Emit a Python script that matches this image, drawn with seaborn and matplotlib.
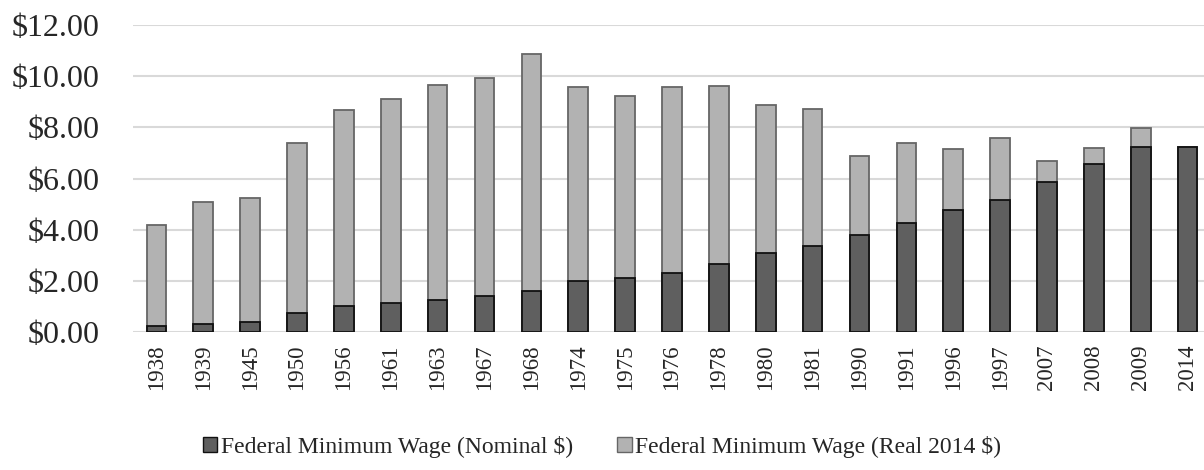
import matplotlib
matplotlib.use("Agg")
import matplotlib.pyplot as plt
import matplotlib.patches as mpatches
import seaborn as sns
import pandas as pd

years = ["1938", "1939", "1945", "1950", "1956", "1961", "1963", "1967", "1968",
         "1974", "1975", "1976", "1978", "1980", "1981", "1990", "1991", "1996",
         "1997", "2007", "2008", "2009", "2014"]
nominal = [0.25, 0.30, 0.40, 0.75, 1.00, 1.15, 1.25, 1.40, 1.60, 2.00, 2.10, 2.30,
           2.65, 3.10, 3.35, 3.80, 4.25, 4.75, 5.15, 5.85, 6.55, 7.25, 7.25]
real = [4.18, 5.09, 5.24, 7.37, 8.69, 9.09, 9.67, 9.91, 10.88, 9.59, 9.22, 9.56,
        9.62, 8.89, 8.71, 6.86, 7.38, 7.16, 7.60, 6.67, 7.19, 7.98, 7.25]

df = pd.DataFrame({"year": years, "nominal": nominal, "real": real})

sns.set_style("white")
plt.rcParams["font.family"] = ["Liberation Serif", "DejaVu Serif"]

dark = "#5f5f5f"
light = "#b2b2b2"

fig = plt.figure(figsize=(12.04, 4.70), dpi=100)
ax = fig.add_axes([133 / 1204, 138 / 470, 1078 / 1204, 307 / 470])

# real wage bars behind, nominal bars in front (overlapping, not stacked)
sns.barplot(data=df, x="year", y="real", order=years, color=light, width=0.42,
            edgecolor="#666666", linewidth=1.3, saturation=1, ax=ax, zorder=2)
sns.barplot(data=df, x="year", y="nominal", order=years, color=dark, width=0.42,
            edgecolor="#111111", linewidth=1.3, saturation=1, ax=ax, zorder=3)

ax.set_ylim(0, 12)
ax.set_xlim(-0.5, len(years) - 0.5)
ax.set_yticks(range(0, 13, 2))
ax.set_yticklabels([f"${v:.2f}" for v in range(0, 13, 2)], fontsize=23)
ax.set_xticks(range(len(years)))
ax.set_xticklabels(years, rotation=90, fontsize=16.5)
ax.yaxis.grid(True, color="#d9d9d9", linewidth=1.5, zorder=0)
ax.set_axisbelow(True)
ax.tick_params(axis="y", length=0, pad=24)
ax.tick_params(axis="x", length=0, pad=9)
ax.set_xlabel("")
ax.set_ylabel("")
for s in ax.spines.values():
    s.set_visible(False)

handles = [
    mpatches.Patch(facecolor=dark, edgecolor="#111111", label="Federal Minimum Wage (Nominal $)"),
    mpatches.Patch(facecolor=light, edgecolor="#666666", label="Federal Minimum Wage (Real 2014 $)"),
]
fig.legend(handles=handles, loc="lower center", bbox_to_anchor=(0.5, -0.02), ncol=2,
           frameon=False, fontsize=17, handlelength=0.6, handleheight=0.6,
           handletextpad=0.15, columnspacing=1.9)

fig.savefig("out.png", dpi=100)
